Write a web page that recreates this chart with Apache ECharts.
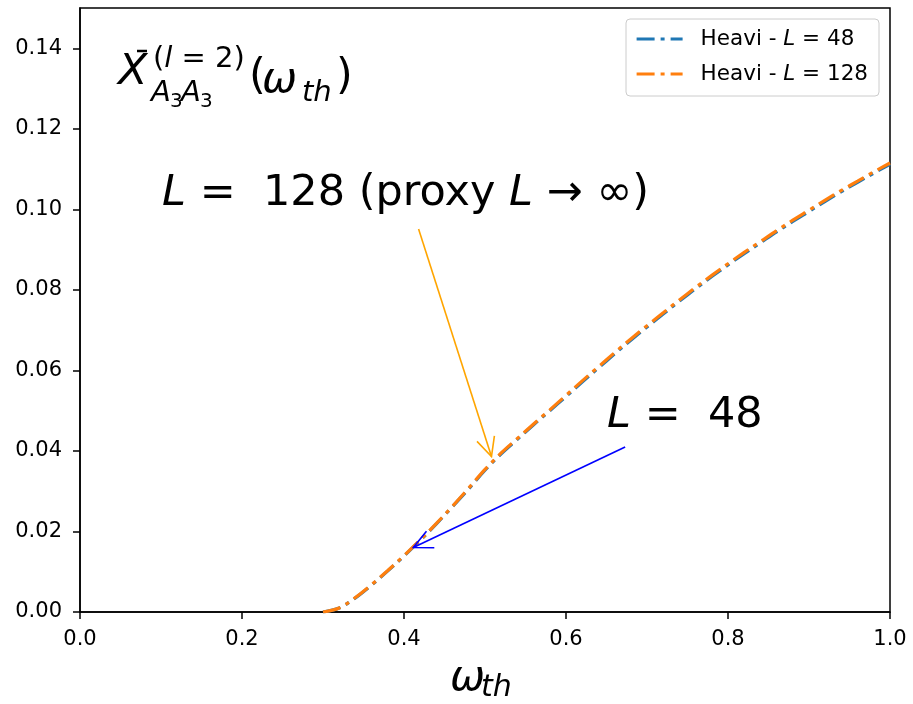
<!DOCTYPE html>
<html>
<head>
<meta charset="utf-8">
<script src="https://cdn.jsdelivr.net/npm/echarts@6/dist/echarts.min.js"></script>
<style>html,body{margin:0;padding:0;background:#fff}#c{width:913px;height:704px}</style>
</head>
<body>
<div id="c"></div>
<script>
// ---- data ----
const omega = [0.30,0.32,0.34,0.36,0.38,0.40,0.42,0.44,0.46,0.48,0.50,0.52,0.54,0.56,0.58,0.60,0.62,0.64,0.66,0.68,0.70,0.72,0.74,0.76,0.78,0.80,0.82,0.84,0.86,0.88,0.90,0.92,0.94,0.96,0.98,1.00];
const heaviL48 = [0.0000,0.0010,0.0035,0.0067,0.0102,0.0139,0.0178,0.0219,0.0262,0.0306,0.0352,0.0393,0.0429,0.0465,0.0500,0.0535,0.0571,0.0606,0.0641,0.0675,0.0708,0.0740,0.0772,0.0803,0.0833,0.0862,0.0890,0.0917,0.0944,0.0970,0.0995,0.1020,0.1044,0.1067,0.1090,0.1112];
const heaviL128 = [0.0000,0.0010,0.0036,0.0068,0.0103,0.0140,0.0179,0.0220,0.0263,0.0308,0.0354,0.0395,0.0431,0.0467,0.0502,0.0538,0.0574,0.0609,0.0644,0.0678,0.0711,0.0743,0.0775,0.0806,0.0836,0.0865,0.0893,0.0920,0.0947,0.0973,0.0998,0.1023,0.1047,0.1070,0.1093,0.1115];
const xTickLabels = ['0.0','0.2','0.4','0.6','0.8','1.0'];
const yTickLabels = ['0.00','0.02','0.04','0.06','0.08','0.10','0.12','0.14'];
const seriesNames = ['Heavi - L = 48','Heavi - L = 128'];
const legendLabels = ['{n|Heavi - }{i|L}{n| = 48}','{n|Heavi - }{i|L}{n| = 128}'];
// annotation arrows (data coordinates): text anchor -> pointed point
const arrow128From = [0.418, 0.0951];
const arrow128To = [0.508, 0.0386];
const arrow48From = [0.673, 0.0410];
const arrow48To = [0.4115, 0.0160];

const FONT = 'DejaVu Sans';
const chart = echarts.init(document.getElementById('c'), null, {renderer: 'canvas'});

function pairs(xs, ys) { return xs.map((x, i) => [x, ys[i]]); }

const dash = [18, 6, 4, 6];
chart.setOption({
  animation: false,
  backgroundColor: '#ffffff',
  grid: {left: 80, right: 23, top: 8, bottom: 92, show: true, borderColor: '#000', borderWidth: 1.5, containLabel: false},
  xAxis: {
    type: 'value', min: 0, max: 1, interval: 0.2,
    splitLine: {show: false},
    axisLine: {show: true, onZero: false, lineStyle: {color: '#000', width: 1.5}},
    axisTick: {show: true, inside: false, length: 7, lineStyle: {color: '#000', width: 1.5}},
    axisLabel: {margin: 17, color: '#000', fontFamily: FONT, fontSize: 21,
      formatter: v => xTickLabels[Math.round(v / 0.2)] ?? ''}
  },
  yAxis: {
    type: 'value', min: 0, max: 0.15, interval: 0.02,
    splitLine: {show: false},
    axisLine: {show: true, onZero: false, lineStyle: {color: '#000', width: 1.5}},
    axisTick: {show: true, inside: false, length: 7, lineStyle: {color: '#000', width: 1.5}},
    axisLabel: {margin: 18, color: '#000', fontFamily: FONT, fontSize: 21, showMaxLabel: false,
      formatter: v => { const i = Math.round(v / 0.02); return Math.abs(v - i * 0.02) < 1e-9 ? (yTickLabels[i] ?? '') : ''; }}
  },
  legend: {
    show: true, right: 34, top: 19, orient: 'vertical', selectedMode: false,
    padding: [9, 11, 11, 9], itemGap: 13, itemWidth: 46, itemHeight: 14,
    borderColor: '#cccccc', borderWidth: 1, borderRadius: 4, backgroundColor: 'rgba(255,255,255,0.8)',
    itemStyle: {opacity: 0},
    lineStyle: {width: 3.2},
    data: seriesNames,
    formatter: name => legendLabels[seriesNames.indexOf(name)],
    textStyle: {
      color: '#000', fontFamily: FONT, fontSize: 21.5, lineHeight: 21, padding: [0, 0, 0, 13],
      rich: {
        n: {fontFamily: FONT, fontSize: 21.5, color: '#000'},
        i: {fontFamily: FONT, fontSize: 21.5, fontStyle: 'italic', color: '#000'}
      }
    }
  },
  series: [
    {name: seriesNames[0], type: 'line', data: pairs(omega, heaviL48), showSymbol: false, symbol: 'none',
     smooth: 0.35, color: '#1f77b4',
     lineStyle: {color: '#1f77b4', width: 3.2, type: dash, cap: 'butt'}, z: 2},
    {name: seriesNames[1], type: 'line', data: pairs(omega, heaviL128), showSymbol: false, symbol: 'none',
     smooth: 0.35, color: '#ff7f0e',
     lineStyle: {color: '#ff7f0e', width: 3.2, type: dash, cap: 'butt'}, z: 3}
  ]
});

// ---- text helpers (x = left, baseline) ----
function T(x, base, text, size, italic) {
  return {
    type: 'text', z: 100, silent: true,
    x: x, y: base - 0.35 * size,
    style: {text: text, fill: '#000', fontFamily: FONT, fontSize: size,
      fontStyle: italic ? 'italic' : 'normal', align: 'left', verticalAlign: 'middle',
      textAlign: 'left', textVerticalAlign: 'middle'}
  };
}
function R(x, base, text, size) {
  return {
    type: 'text', z: 100, silent: true, x: x, y: base - 0.35 * size,
    style: {text: text, fill: '#000', fontFamily: FONT, fontSize: size,
      align: 'left', verticalAlign: 'middle', textAlign: 'left', textVerticalAlign: 'middle',
      rich: {
        n: {fontFamily: FONT, fontSize: size, fill: '#000', color: '#000'},
        i: {fontFamily: FONT, fontSize: size, fontStyle: 'italic', fill: '#000', color: '#000'}
      }}
  };
}
function arrow(from, to, color) {
  const p0 = chart.convertToPixel({gridIndex: 0}, from);
  const p1 = chart.convertToPixel({gridIndex: 0}, to);
  const ang = Math.atan2(p0[1] - p1[1], p0[0] - p1[0]);
  const L = 21, a = 0.45;
  return [
    {type: 'line', z: 50, silent: true, shape: {x1: p0[0], y1: p0[1], x2: p1[0], y2: p1[1]},
     style: {stroke: color, lineWidth: 1.6}},
    {type: 'polyline', z: 50, silent: true,
     shape: {points: [[p1[0] + L * Math.cos(ang + a), p1[1] + L * Math.sin(ang + a)], [p1[0], p1[1]],
                      [p1[0] + L * Math.cos(ang - a), p1[1] + L * Math.sin(ang - a)]]},
     style: {stroke: color, fill: 'none', lineWidth: 1.6}}
  ];
}

const g = [];
// panel label  X̄^(l=2)_{A3A3}(ω_th)
g.push(T(118, 88, 'X', 43, true));
g.push({type: 'line', z: 100, silent: true, shape: {x1: 137, y1: 51, x2: 147, y2: 51}, style: {stroke: '#000', lineWidth: 2.5}});
g.push(R(153, 70, '{n|(}{i|l}{n| = 2)}', 29));
g.push(T(151, 104, 'A', 29, true));
g.push(T(170, 108.5, '3', 20, false));
g.push(T(181, 104, 'A', 29, true));
g.push(T(200, 108.5, '3', 20, false));
g.push(T(249, 93, '(', 43, false));
g.push(T(262, 96, 'ω', 42, true));
g.push(T(302, 104, 'th', 29, true));
g.push(T(336, 93, ')', 43, false));
// x-axis title ω_th
g.push(T(450, 694, 'ω', 42, true));
g.push(T(481, 699, 'th', 30, true));
// annotations
g.push(R(162, 209, '{i|L}{n| =  128 (proxy }{i|L}{n| → ∞)}', 43));
g.push(R(607, 431, '{i|L}{n| =  48}', 43));
arrow(arrow128From, arrow128To, '#ffa500').forEach(e => g.push(e));
arrow(arrow48From, arrow48To, '#0000ff').forEach(e => g.push(e));

chart.setOption({graphic: {elements: g}});
</script>
</body>
</html>
